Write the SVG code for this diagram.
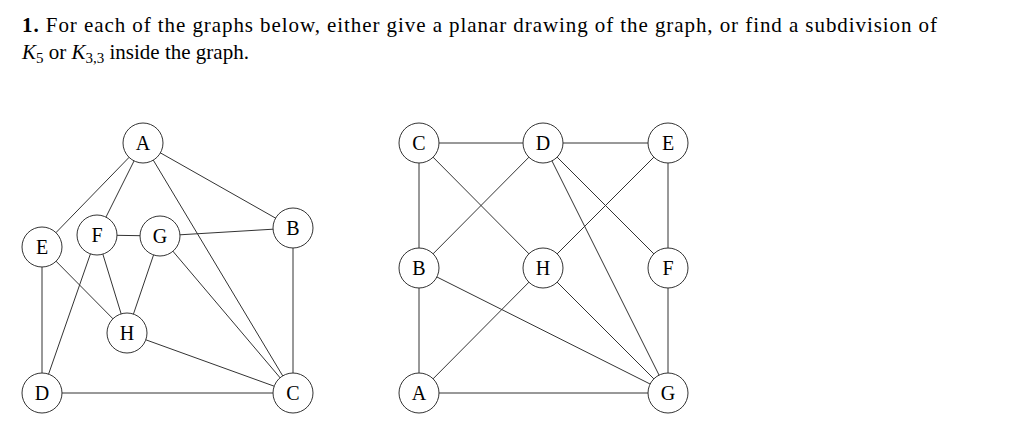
<svg xmlns="http://www.w3.org/2000/svg" width="1024" height="448" viewBox="0 0 1024 448">
<style>
.t{font-family:"Liberation Serif","DejaVu Serif",serif;font-size:21px;fill:#000}
.e line{stroke:#333;stroke-width:1}
.n circle{fill:#fff;stroke:#333;stroke-width:1}
.n text{font-family:"Liberation Serif","DejaVu Serif",serif;font-size:20px;text-anchor:middle;fill:#000}
</style>
<rect width="1024" height="448" fill="#fff"/>
<text class="t" x="22" y="32" textLength="915" lengthAdjust="spacing"><tspan font-weight="bold">1.</tspan> For each of the graphs below, either give a planar drawing of the graph, or find a subdivision of</text>
<text class="t" x="22" y="59"><tspan font-style="italic">K</tspan><tspan font-size="15" dy="4">5</tspan><tspan dy="-4"> or </tspan><tspan font-style="italic">K</tspan><tspan font-size="15" dy="4">3,3</tspan><tspan dy="-4"> inside the graph.</tspan></text>
<g class="e" id="edges">
<line x1="143" y1="143" x2="42" y2="247"/>
<line x1="143" y1="143" x2="97" y2="235"/>
<line x1="143" y1="143" x2="293" y2="228"/>
<line x1="143" y1="143" x2="293" y2="393"/>
<line x1="97" y1="235" x2="160" y2="236"/>
<line x1="160" y1="236" x2="293" y2="228"/>
<line x1="42" y1="247" x2="127" y2="333"/>
<line x1="42" y1="247" x2="42" y2="393"/>
<line x1="97" y1="235" x2="42" y2="393"/>
<line x1="97" y1="235" x2="127" y2="333"/>
<line x1="160" y1="236" x2="127" y2="333"/>
<line x1="160" y1="236" x2="293" y2="393"/>
<line x1="127" y1="333" x2="293" y2="393"/>
<line x1="293" y1="228" x2="293" y2="393"/>
<line x1="42" y1="393" x2="293" y2="393"/>
<line x1="419" y1="143" x2="543" y2="143"/>
<line x1="543" y1="143" x2="668" y2="143"/>
<line x1="419" y1="143" x2="419" y2="268"/>
<line x1="419" y1="143" x2="543" y2="268"/>
<line x1="543" y1="143" x2="419" y2="268"/>
<line x1="543" y1="143" x2="668" y2="393"/>
<line x1="543" y1="143" x2="668" y2="268"/>
<line x1="668" y1="143" x2="543" y2="268"/>
<line x1="668" y1="143" x2="668" y2="268"/>
<line x1="419" y1="268" x2="419" y2="393"/>
<line x1="419" y1="268" x2="668" y2="393"/>
<line x1="543" y1="268" x2="419" y2="393"/>
<line x1="543" y1="268" x2="668" y2="393"/>
<line x1="668" y1="268" x2="668" y2="393"/>
<line x1="419" y1="393" x2="668" y2="393"/>
</g>
<g class="n" id="L-A"><circle cx="143" cy="143" r="20"/><text x="143" y="150">A</text></g>
<g class="n" id="L-E"><circle cx="42" cy="247" r="20"/><text x="42" y="254">E</text></g>
<g class="n" id="L-F"><circle cx="97" cy="235" r="20"/><text x="97" y="242">F</text></g>
<g class="n" id="L-G"><circle cx="160" cy="236" r="20"/><text x="160" y="243">G</text></g>
<g class="n" id="L-B"><circle cx="293" cy="228" r="20"/><text x="293" y="235">B</text></g>
<g class="n" id="L-H"><circle cx="127" cy="333" r="20"/><text x="127" y="340">H</text></g>
<g class="n" id="L-D"><circle cx="42" cy="393" r="20"/><text x="42" y="400">D</text></g>
<g class="n" id="L-C"><circle cx="293" cy="393" r="20"/><text x="293" y="400">C</text></g>
<g class="n" id="R-C"><circle cx="419" cy="143" r="20"/><text x="419" y="150">C</text></g>
<g class="n" id="R-D"><circle cx="543" cy="143" r="20"/><text x="543" y="150">D</text></g>
<g class="n" id="R-E"><circle cx="668" cy="143" r="20"/><text x="668" y="150">E</text></g>
<g class="n" id="R-B"><circle cx="419" cy="268" r="20"/><text x="419" y="275">B</text></g>
<g class="n" id="R-H"><circle cx="543" cy="268" r="20"/><text x="543" y="275">H</text></g>
<g class="n" id="R-F"><circle cx="668" cy="268" r="20"/><text x="668" y="275">F</text></g>
<g class="n" id="R-A"><circle cx="419" cy="393" r="20"/><text x="419" y="400">A</text></g>
<g class="n" id="R-G"><circle cx="668" cy="393" r="20"/><text x="668" y="400">G</text></g>
</svg>
